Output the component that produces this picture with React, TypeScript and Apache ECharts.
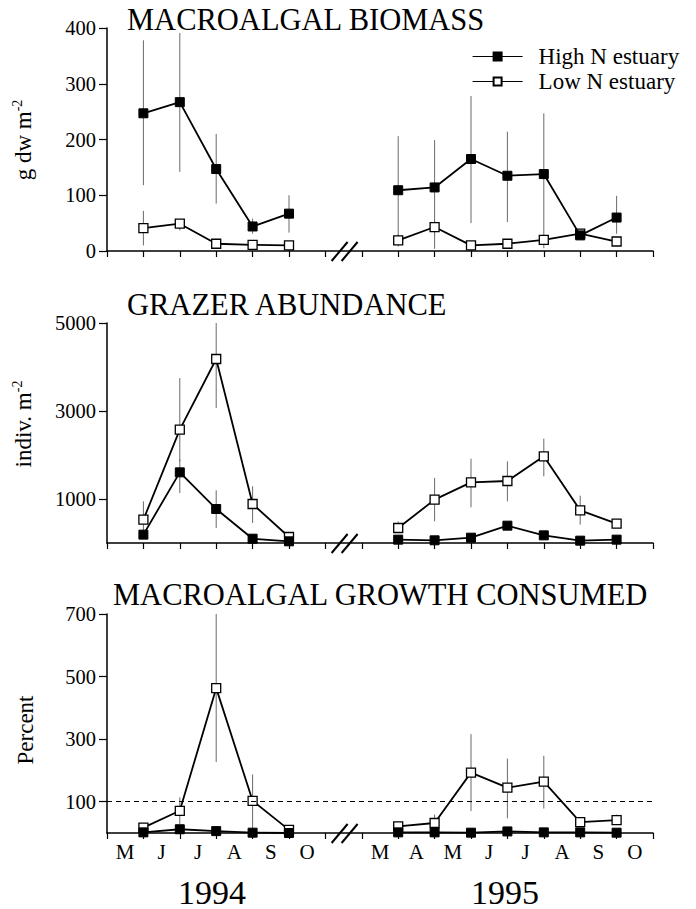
import React, { useEffect, useRef } from 'react';
import * as echarts from 'echarts';

const FONT = 'Liberation Serif';

const seriesNames = ['High N estuary', 'Low N estuary'];
const months1994 = ['M', 'J', 'J', 'A', 'S', 'O'];
const months1995 = ['M', 'A', 'M', 'J', 'J', 'A', 'S', 'O'];
const yearLabels = ['1994', '1995'];
const panelTitles = ['MACROALGAL BIOMASS', 'GRAZER ABUNDANCE', 'MACROALGAL GROWTH CONSUMED'];
const yNames = [['g dw m', '-2'], ['indiv. m', '-2'], ['Percent', '']];

// axis positions (months): 1994 segment starts at 0, 1995 segment at 7
const start1994 = 0;
const start1995 = 7;
const axisEnd = 15;
const breakAt = 6.5;
const x1994 = [1, 2, 3, 4, 5];
const x1995 = [8, 9, 10, 11, 12, 13, 14];

// y axes
const yMax = [400, 5000, 700];
const yTicks = [
  [0, 100, 200, 300, 400],
  [1000, 3000, 5000],
  [100, 300, 500, 700],
];
const refLine = 100;

type Err = [number, number] | null;

// Panel 1: macroalgal biomass (g dw m-2)
const bioHigh1994 = [247, 267, 147, 44, 67];
const bioHigh1995 = [109, 114, 165, 135, 138, 28, 60];
const bioLow1994 = [41, 49, 13, 11, 10];
const bioLow1995 = [19, 43, 10, 13, 20, 31, 17];
const bioHighErr1994: Err[] = [[118, 378], [142, 391], [85, 210], [31, 58], [33, 100]];
const bioHighErr1995: Err[] = [[13, 206], [4, 199], [50, 278], [52, 214], [5, 247], [20, 36], [31, 99]];
const bioLowErr1994: Err[] = [[10, 72], [37, 55], [6, 20], null, null];
const bioLowErr1995: Err[] = [[8, 30], [30, 56], null, null, null, null, null];

// Panel 2: grazer abundance (indiv. m-2)
const grzHigh1994 = [190, 1606, 773, 98, 38];
const grzHigh1995 = [76, 61, 121, 394, 174, 53, 76];
const grzLow1994 = [530, 2576, 4182, 886, 136];
const grzLow1995 = [341, 985, 1379, 1409, 1970, 742, 439];
const grzHighErr1994: Err[] = [null, [1136, 1900], [341, 1197], null, null];
const grzHighErr1995: Err[] = [null, null, null, null, null, null, null];
const grzLowErr1994: Err[] = [[150, 947], [1856, 3750], [3068, 5000], [455, 1288], null];
const grzLowErr1995: Err[] = [[227, 490], [492, 1477], [811, 1917], [947, 1856], [1515, 2371], [417, 1076], null];

// Panel 3: macroalgal growth consumed (percent)
const conHigh1994 = [2, 12, 6, 1, 0];
const conHigh1995 = [2, 2, 1, 5, 2, 2, 1];
const conLow1994 = [17, 71, 463, 103, 10];
const conLow1995 = [21, 32, 193, 145, 164, 35, 41];
const conHighErr1994: Err[] = [null, [2, 25], null, null, null];
const conHighErr1995: Err[] = [null, null, null, null, null, null, null];
const conLowErr1994: Err[] = [null, [28, 114], [227, 700], [0, 187], null];
const conLowErr1995: Err[] = [null, [20, 59], [70, 316], [47, 238], [78, 247], [25, 45], [30, 59]];

const panels = [
  { high: [bioHigh1994, bioHigh1995], low: [bioLow1994, bioLow1995], highErr: [bioHighErr1994, bioHighErr1995], lowErr: [bioLowErr1994, bioLowErr1995] },
  { high: [grzHigh1994, grzHigh1995], low: [grzLow1994, grzLow1995], highErr: [grzHighErr1994, grzHighErr1995], lowErr: [grzLowErr1994, grzLowErr1995] },
  { high: [conHigh1994, conHigh1995], low: [conLow1994, conLow1995], highErr: [conHighErr1994, conHighErr1995], lowErr: [conLowErr1994, conLowErr1995] },
];

const grids = [
  { left: 107, right: 43, top: 28, height: 223 },
  { left: 107, right: 43, top: 323, height: 220 },
  { left: 107, right: 43, top: 614, height: 219 },
];

function buildOption() {
  const xs = [x1994, x1995];
  const tickVals: number[] = [];
  for (let v = 0; v <= axisEnd; v++) tickVals.push(v);
  const labelMap: Record<string, string> = {};
  const labelVals: number[] = [];
  months1994.forEach((m, i) => { const v = start1994 + i + 0.5; labelVals.push(v); labelMap[String(v)] = m; });
  months1995.forEach((m, i) => { const v = start1995 + i + 0.5; labelVals.push(v); labelMap[String(v)] = m; });

  const xAxis = grids.map((_, i) => ({
    type: 'value', gridIndex: i, min: 0, max: axisEnd, interval: 1,
    axisLine: { show: true, onZero: false, lineStyle: { color: '#000', width: 1.5 } },
    axisTick: { show: true, inside: false, length: 6, customValues: tickVals, lineStyle: { color: '#000', width: 1.2 } },
    axisLabel: i === 2
      ? { show: true, customValues: labelVals, formatter: (v: number) => labelMap[String(v)] ?? '', fontFamily: FONT, fontSize: 21, color: '#000', margin: 8 }
      : { show: false },
    splitLine: { show: false },
  }));

  const yAxis = grids.map((_, i) => ({
    type: 'value', gridIndex: i, min: 0, max: yMax[i],
    axisLine: { show: true, lineStyle: { color: '#000', width: 1.5 } },
    axisTick: { show: true, length: 8, customValues: yTicks[i], lineStyle: { color: '#000', width: 1.2 } },
    axisLabel: { show: true, customValues: yTicks[i], formatter: (v: number) => String(v), fontFamily: FONT, fontSize: 20.5, color: '#000', margin: 11 },
    splitLine: { show: false },
  }));

  const series: any[] = [];
  panels.forEach((p, i) => {
    const errData: number[][] = [];
    [p.lowErr, p.highErr].forEach((errs) => {
      errs.forEach((yearErr, y) => {
        yearErr.forEach((e, k) => { if (e) errData.push([xs[y][k], e[0], e[1]]); });
      });
    });
    series.push({
      type: 'custom', name: 'err' + i, xAxisIndex: i, yAxisIndex: i, z: 1, silent: true,
      data: errData,
      renderItem: (_params: any, api: any) => {
        const a = api.coord([api.value(0), api.value(1)]);
        const b = api.coord([api.value(0), api.value(2)]);
        return { type: 'line', shape: { x1: a[0], y1: a[1], x2: b[0], y2: b[1] }, style: { stroke: '#6a6a6a', lineWidth: 1 } };
      },
    });
    // low N (open squares)
    [0, 1].forEach((y) => {
      const s: any = {
        type: 'line', name: seriesNames[1], xAxisIndex: i, yAxisIndex: i, z: 3,
        data: xs[y].map((x, k) => [x, p.low[y][k]]),
        symbol: 'rect', symbolSize: 9,
        lineStyle: { color: '#000', width: 1.8 },
        itemStyle: { color: '#fff', borderColor: '#000', borderWidth: 1.3 },
      };
      if (i === 2 && y === 0) {
        s.markLine = {
          silent: true, symbol: 'none', label: { show: false },
          lineStyle: { color: '#000', width: 1.2, type: [5, 4] },
          data: [{ yAxis: refLine }],
        };
      }
      series.push(s);
    });
    // high N (filled squares)
    [0, 1].forEach((y) => {
      series.push({
        type: 'line', name: seriesNames[0], xAxisIndex: i, yAxisIndex: i, z: 4,
        data: xs[y].map((x, k) => [x, p.high[y][k]]),
        symbol: 'rect', symbolSize: 9,
        lineStyle: { color: '#000', width: 1.8 },
        itemStyle: { color: '#000', borderColor: '#000', borderWidth: 1 },
      });
    });
    // axis break marks
    series.push({
      type: 'custom', name: 'break' + i, xAxisIndex: i, yAxisIndex: i, z: 5, silent: true,
      data: [[breakAt, 0]],
      renderItem: (_params: any, api: any) => {
        const c = api.coord([api.value(0), api.value(1)]);
        return {
          type: 'group',
          children: [
            { type: 'line', shape: { x1: c[0] - 12, y1: c[1] + 10, x2: c[0] + 4, y2: c[1] - 9 }, style: { stroke: '#000', lineWidth: 2 } },
            { type: 'line', shape: { x1: c[0] - 2, y1: c[1] + 10, x2: c[0] + 14, y2: c[1] - 9 }, style: { stroke: '#000', lineWidth: 2 } },
          ],
        };
      },
    });
  });

  const titlePos = [[127, 20], [127, 305], [113, 595]];
  const yNamePos = [[23, 140], [23, 424], [25, 730]];
  const yearPos = [[212, 892], [505, 892]];

  const graphic: any[] = [];
  panelTitles.forEach((t, i) => {
    graphic.push({ type: 'text', x: titlePos[i][0], y: titlePos[i][1], style: { text: t, font: `30.5px "${FONT}"`, fill: '#000', align: 'left', verticalAlign: 'middle' } });
  });
  yNames.forEach((n, i) => {
    graphic.push({
      type: 'text', x: yNamePos[i][0], y: yNamePos[i][1], rotation: Math.PI / 2,
      style: {
        text: n[1] ? `{a|${n[0]}}{b|${n[1]}}` : `{a|${n[0]}}`,
        rich: {
          a: { fontFamily: FONT, fontSize: 23, fill: '#000', lineHeight: 26 },
          b: { fontFamily: FONT, fontSize: 14, fill: '#000', verticalAlign: 'top', lineHeight: 14 },
        },
        align: 'center', verticalAlign: 'middle',
      },
    });
  });
  yearLabels.forEach((y, i) => {
    graphic.push({ type: 'text', x: yearPos[i][0], y: yearPos[i][1], style: { text: y, font: `34px "${FONT}"`, fill: '#000', align: 'center', verticalAlign: 'middle' } });
  });

  return {
    animation: false,
    backgroundColor: '#fff',
    grid: grids,
    xAxis, yAxis, series, graphic,
    legend: {
      data: seriesNames, orient: 'vertical', left: 472, top: 45, padding: 0,
      itemWidth: 50, itemHeight: 10, itemGap: 2, selectedMode: false,
      textStyle: { fontFamily: FONT, fontSize: 23, color: '#000', padding: [0, 0, 0, 11] },
      lineStyle: { width: 1.2 },
    },
  };
}

export default function App() {
  const ref = useRef<HTMLDivElement>(null);
  useEffect(() => {
    document.body.style.margin = '0';
    if (!ref.current) return;
    const chart = echarts.init(ref.current, undefined, { renderer: 'svg' });
    chart.setOption(buildOption() as any);
    return () => chart.dispose();
  }, []);
  return <div ref={ref} style={{ width: 696, height: 909 }} />;
}
